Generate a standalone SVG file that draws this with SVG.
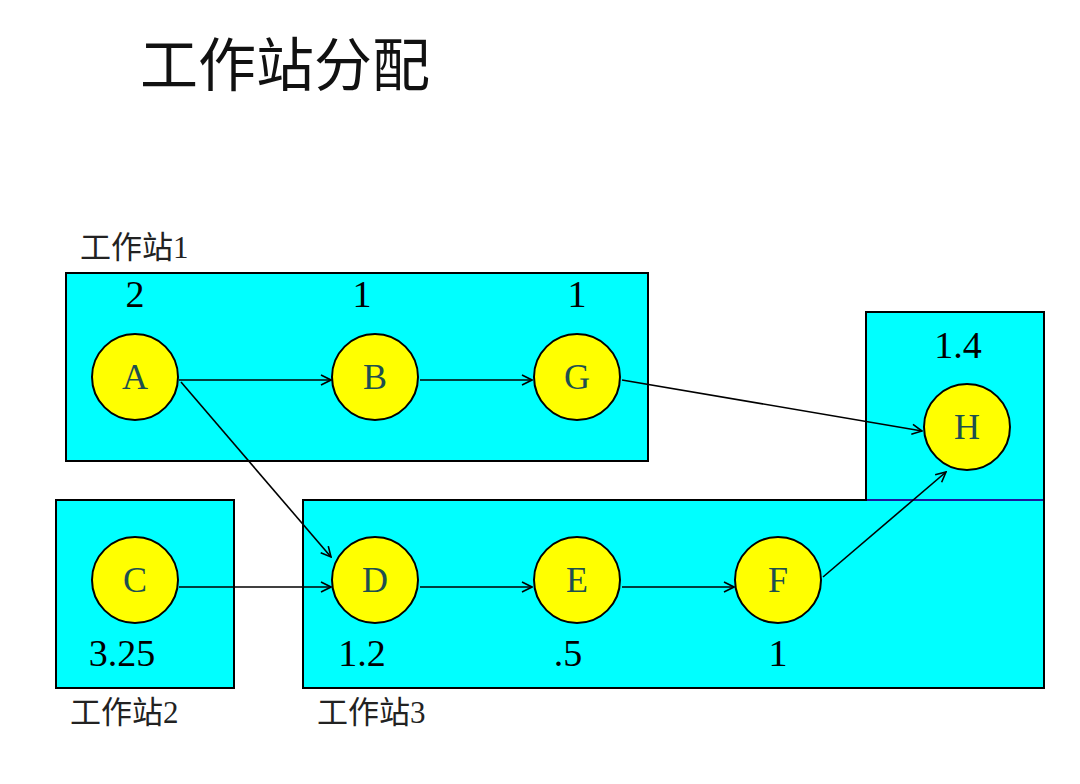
<svg xmlns="http://www.w3.org/2000/svg" width="1080" height="784" viewBox="0 0 1080 784">
<style>
.box{fill:#00FFFF;stroke:#000;stroke-width:2}
.node circle{fill:#FFFF00;stroke:#000;stroke-width:2}
.lbl{font-family:"Liberation Serif","Noto Sans CJK SC",serif;font-size:36px;fill:#1E4F4F;text-anchor:middle}
.num{font-family:"Liberation Serif","Noto Sans CJK SC",serif;font-size:38px;fill:#000;text-anchor:middle}
.st{font-family:"Liberation Serif","Noto Sans CJK SC",serif;font-size:31px;fill:#222}
.title{font-family:"Liberation Serif","Noto Sans CJK SC",serif;font-size:58px;fill:#111}
.conn line{stroke:#000;stroke-width:1.6;fill:none;marker-end:url(#arr)}
</style>
<defs>
<marker id="arr" viewBox="0 0 12 12" refX="11" refY="6" markerWidth="12" markerHeight="12" markerUnits="userSpaceOnUse" orient="auto">
<path d="M1,1 L11,6 L1,11" fill="none" stroke="#000" stroke-width="1.6"/>
</marker>
</defs>
<rect width="1080" height="784" fill="#fff"/>
<text class="title" x="140" y="86">工作站分配</text>
<g id="station1">
<rect class="box" x="66" y="273" width="582" height="188"/>
<text class="st" x="80" y="258">工作站1</text>
</g>
<g id="station2">
<rect class="box" x="56" y="500" width="178" height="188"/>
<text class="st" x="70" y="723">工作站2</text>
</g>
<g id="station3">
<rect class="box" x="303" y="500" width="741" height="188"/>
<rect class="box" x="866" y="312" width="178" height="188"/>
<line x1="867" y1="500" x2="1043" y2="500" stroke="#1a1aa0" stroke-width="2"/>
<text class="st" x="317" y="723">工作站3</text>
</g>
<g class="conn" id="connectors">
<line x1="179" y1="380" x2="331" y2="380"/>
<line x1="420" y1="380" x2="532" y2="380"/>
<line x1="622" y1="380" x2="922" y2="431"/>
<line x1="181" y1="382" x2="331" y2="557"/>
<line x1="179" y1="587" x2="331" y2="587"/>
<line x1="420" y1="587" x2="532" y2="587"/>
<line x1="622" y1="587" x2="734" y2="587"/>
<line x1="823" y1="577" x2="946" y2="472"/>
</g>
<g id="nodeA" class="node"><circle cx="135" cy="377" r="43"/><text class="lbl" x="135" y="389">A</text><text class="num" x="135" y="307">2</text></g>
<g id="nodeB" class="node"><circle cx="375" cy="377" r="43"/><text class="lbl" x="375" y="389">B</text><text class="num" x="362" y="307">1</text></g>
<g id="nodeG" class="node"><circle cx="577" cy="377" r="43"/><text class="lbl" x="577" y="389">G</text><text class="num" x="577" y="307">1</text></g>
<g id="nodeH" class="node"><circle cx="967" cy="427" r="43"/><text class="lbl" x="967" y="439">H</text><text class="num" x="958" y="358">1.4</text></g>
<g id="nodeC" class="node"><circle cx="135" cy="580" r="43"/><text class="lbl" x="135" y="592">C</text><text class="num" x="122" y="666">3.25</text></g>
<g id="nodeD" class="node"><circle cx="375" cy="580" r="43"/><text class="lbl" x="375" y="592">D</text><text class="num" x="362" y="666">1.2</text></g>
<g id="nodeE" class="node"><circle cx="577" cy="580" r="43"/><text class="lbl" x="577" y="592">E</text><text class="num" x="568" y="666">.5</text></g>
<g id="nodeF" class="node"><circle cx="778" cy="580" r="43"/><text class="lbl" x="778" y="592">F</text><text class="num" x="778" y="666">1</text></g>
</svg>
